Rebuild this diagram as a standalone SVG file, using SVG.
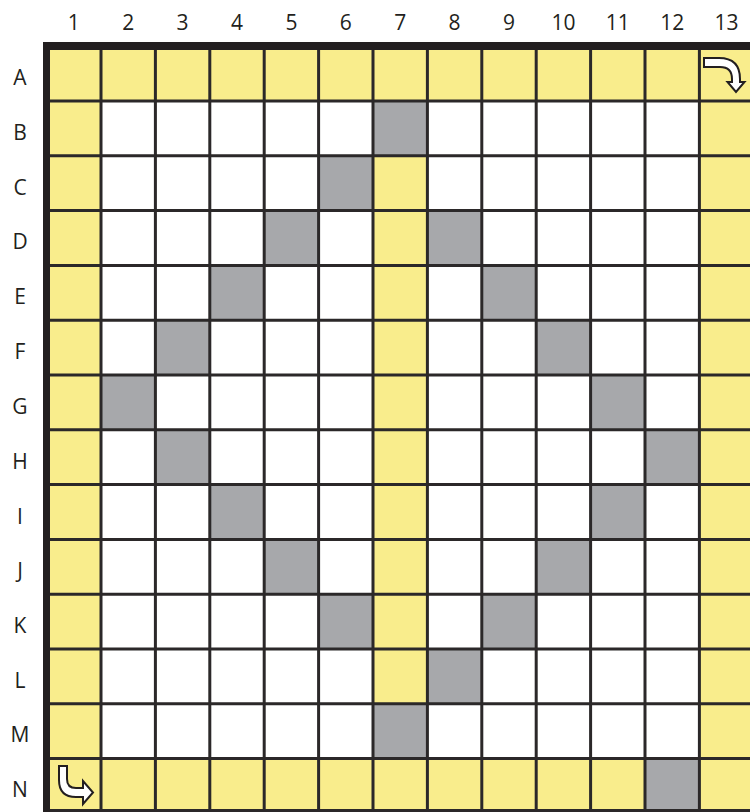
<svg xmlns="http://www.w3.org/2000/svg" width="750" height="812" viewBox="0 0 750 812">
<style>
.y{fill:#f9ed8c}
.g{fill:#a7a8ab}
.ln{stroke:#2b2829;stroke-width:3;fill:none}
.lb{font-family:"Open Sans","Noto Sans",sans-serif;font-size:21px;fill:#231f20;text-anchor:middle}
.ar{fill:#ffffff;stroke:#231f20;stroke-width:2;stroke-linejoin:miter}
</style>
<rect width="750" height="812" fill="#ffffff"/>
<g id="labels-cols">
<text class="lb" x="73.8" y="30">1</text>
<text class="lb" x="128.2" y="30">2</text>
<text class="lb" x="182.6" y="30">3</text>
<text class="lb" x="237" y="30">4</text>
<text class="lb" x="291.4" y="30">5</text>
<text class="lb" x="345.8" y="30">6</text>
<text class="lb" x="400.2" y="30">7</text>
<text class="lb" x="454.6" y="30">8</text>
<text class="lb" x="509" y="30">9</text>
<text class="lb" x="563.4" y="30">10</text>
<text class="lb" x="617.8" y="30">11</text>
<text class="lb" x="672.2" y="30">12</text>
<text class="lb" x="726.6" y="30">13</text>
</g>
<g id="labels-rows">
<text class="lb" x="20" y="84.5">A</text>
<text class="lb" x="20" y="139.5">B</text>
<text class="lb" x="20" y="194.5">C</text>
<text class="lb" x="20" y="248.5">D</text>
<text class="lb" x="20" y="303.5">E</text>
<text class="lb" x="20" y="358.5">F</text>
<text class="lb" x="20" y="413.5">G</text>
<text class="lb" x="20" y="468.5">H</text>
<text class="lb" x="20" y="523.5">I</text>
<text class="lb" x="20" y="577.5">J</text>
<text class="lb" x="20" y="632.5">K</text>
<text class="lb" x="20" y="687.5">L</text>
<text class="lb" x="20" y="742">M</text>
<text class="lb" x="20" y="797">N</text>
</g>
<g id="yellow-cells">
<rect class="y" x="46.6" y="46.2" width="707.2" height="54.8"/>
<rect class="y" x="46.6" y="46.2" width="54.4" height="767.2"/>
<rect class="y" x="699.4" y="46.2" width="54.4" height="767.2"/>
<rect class="y" x="46.6" y="758.6" width="707.2" height="54.8"/>
<rect class="y" x="373" y="155.8" width="54.4" height="548"/>
</g>
<g id="gray-cells">
<rect class="g" x="373" y="101" width="54.4" height="54.8"/>
<rect class="g" x="318.6" y="155.8" width="54.4" height="54.8"/>
<rect class="g" x="264.2" y="210.6" width="54.4" height="54.8"/>
<rect class="g" x="427.4" y="210.6" width="54.4" height="54.8"/>
<rect class="g" x="209.8" y="265.4" width="54.4" height="54.8"/>
<rect class="g" x="481.8" y="265.4" width="54.4" height="54.8"/>
<rect class="g" x="155.4" y="320.2" width="54.4" height="54.8"/>
<rect class="g" x="536.2" y="320.2" width="54.4" height="54.8"/>
<rect class="g" x="101" y="375" width="54.4" height="54.8"/>
<rect class="g" x="590.6" y="375" width="54.4" height="54.8"/>
<rect class="g" x="155.4" y="429.8" width="54.4" height="54.8"/>
<rect class="g" x="645" y="429.8" width="54.4" height="54.8"/>
<rect class="g" x="209.8" y="484.6" width="54.4" height="54.8"/>
<rect class="g" x="590.6" y="484.6" width="54.4" height="54.8"/>
<rect class="g" x="264.2" y="539.4" width="54.4" height="54.8"/>
<rect class="g" x="536.2" y="539.4" width="54.4" height="54.8"/>
<rect class="g" x="318.6" y="594.2" width="54.4" height="54.8"/>
<rect class="g" x="481.8" y="594.2" width="54.4" height="54.8"/>
<rect class="g" x="427.4" y="649" width="54.4" height="54.8"/>
<rect class="g" x="373" y="703.8" width="54.4" height="54.8"/>
<rect class="g" x="645" y="758.6" width="54.4" height="54.8"/>
</g>
<g id="grid-lines">
<path class="ln" d="M101,46V813M155.4,46V813M209.8,46V813M264.2,46V813M318.6,46V813M373,46V813M427.4,46V813M481.8,46V813M536.2,46V813M590.6,46V813M645,46V813M699.4,46V813"/>
<path class="ln" d="M46,101H750M46,155.8H750M46,210.6H750M46,265.4H750M46,320.2H750M46,375H750M46,429.8H750M46,484.6H750M46,539.4H750M46,594.2H750M46,649H750M46,703.8H750M46,758.6H750M46,810.5H750"/>
<rect x="43" y="42" width="707" height="8" fill="#231f20"/>
<rect x="43" y="42" width="7" height="770" fill="#231f20"/>
</g>
<g id="arrow-start">
<path class="ar" d="M704,58 L719,58 Q740,58 740,79 L740,82 L744.5,82 L736,92 L727.5,82 L732,82 L732,79 Q732,67 720,67 L704,67 Z"/>
</g>
<g id="arrow-end">
<path class="ar" d="M59,766 L67,766 L67,779 Q67,788 76,788 L83,788 L83,781 L93,792.5 L83,804 L83,797 L76,797 Q59,797 59,780 Z"/>
</g>
</svg>
